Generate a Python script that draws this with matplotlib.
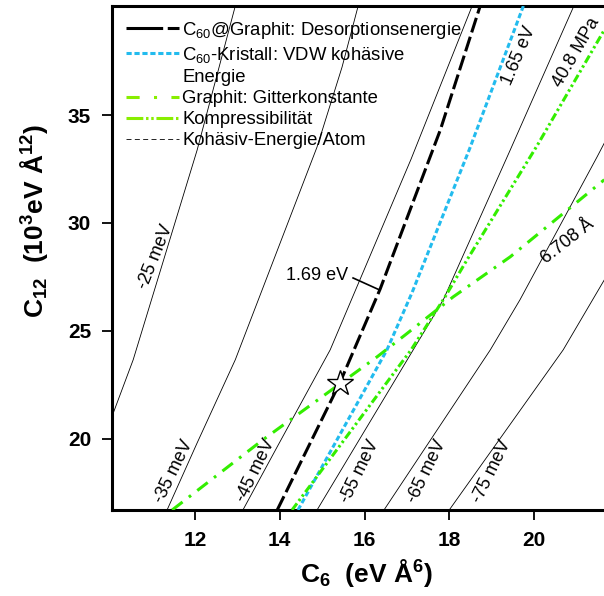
import matplotlib
matplotlib.use("Agg")
import matplotlib.pyplot as plt
from matplotlib.lines import Line2D

plt.rcParams['font.family'] = ['Liberation Sans', 'DejaVu Sans']
plt.rcParams['mathtext.default'] = 'regular'

# --- data (C6 in eV A^6, C12 in 10^3 eV A^12) ---
desorp_c6 = [13.94, 15.42, 16.37, 17.79, 18.73]
desorp_c12 = [16.7, 22.6, 26.94, 34.31, 40.05]

kristall_c6 = [14.43, 16.53, 17.12, 18.48, 19.75]
kristall_c12 = [16.7, 24.12, 26.76, 33.43, 40.05]

gitter_c6 = [11.46, 13.6, 16.3, 16.96, 18.09, 19.44, 21.66]
gitter_c12 = [16.7, 19.95, 23.8, 24.81, 26.57, 28.43, 32.0]

kompr_c6 = [14.29, 17.1, 17.9, 18.42, 20.08, 21.66]
kompr_c12 = [16.7, 24.12, 26.57, 28.29, 33.6, 38.94]

# cohesive energy per atom contours
coh_labels = ["-25 meV", "-35 meV", "-45 meV", "-55 meV", "-65 meV", "-75 meV"]
coh_c6 = [
    [9.9, 10.54, 12.05, 12.95],
    [11.34, 12.05, 12.95, 14.88, 15.47, 15.85],
    [13.13, 13.94, 15.19, 17.1, 18.54],
    [14.88, 17.15, 17.86, 19.44, 20.93],
    [16.46, 18.97, 19.67, 21.49, 21.66],
    [18.0, 20.69, 21.66],
]
coh_c12 = [
    [20.3, 23.66, 33.38, 40.05],
    [16.7, 19.81, 23.66, 33.52, 37.22, 40.05],
    [16.7, 19.63, 24.12, 32.96, 40.05],
    [16.7, 24.12, 26.44, 33.38, 40.0],
    [16.7, 24.12, 26.44, 33.06, 33.7],
    [16.7, 24.12, 27.36],
]
coh_lab_c6 = [11.06, 11.5, 13.44, 15.9, 17.48, 19.01]
coh_lab_c12 = [28.43, 18.47, 18.52, 18.47, 18.47, 18.47]
coh_lab_rot = [68, 64, 64, 64, 64, 64]

star_c6, star_c12 = 15.42, 22.6

GREEN = '#33ee00'
GREEN_LEG = '#88ee00'
CYAN = '#22bbee'

fig = plt.figure(figsize=(6.04, 5.96), dpi=100)
ax = fig.add_axes([112 / 604, 1 - 510 / 596, (618.7 - 112) / 604, 504 / 596])

for xs, ys in zip(coh_c6, coh_c12):
    ax.plot(xs, ys, color='black', lw=0.6)
for lab, x, y, r in zip(coh_labels, coh_lab_c6, coh_lab_c12, coh_lab_rot):
    ax.text(x, y, lab, rotation=r, ha='center', va='center', fontsize=13)

ax.plot(desorp_c6, desorp_c12, color='black', lw=2.2, dashes=(5, 1.5), zorder=4)
ax.plot(kristall_c6, kristall_c12, color=CYAN, lw=2.2, dashes=(1.7, 0.9), zorder=4)
ax.plot(gitter_c6, gitter_c12, color=GREEN, lw=2.2, dashes=(4.3, 2.6, 0.9, 2.6),
        zorder=4)
ax.plot(kompr_c6, kompr_c12, color=GREEN, lw=2.2,
        dashes=(2.7, 1, 0.8, 1, 0.8, 1), zorder=4)

ax.plot([star_c6], [star_c12], marker='*', ms=19, mfc='white', mec='black',
        mew=1.0, zorder=6)

# annotations
ax.plot([15.73, 16.35], [27.45, 26.9], color='black', lw=1.2)
ax.text(14.88, 27.55, "1.69 eV", ha='center', va='center', fontsize=13)
ax.text(19.65, 37.75, "1.65 eV", rotation=67, ha='center', va='center', fontsize=13)
ax.text(21.0, 37.9, "40.8 MPa", rotation=60, ha='center', va='center', fontsize=13)
ax.text(20.22, 28.25, "6.708 Å", rotation=38, ha='left', va='center',
        rotation_mode='anchor', fontsize=13)

ax.set_xlim(10.04, 22)
ax.set_ylim(16.7, 40.05)
ax.set_xticks([12, 14, 16, 18, 20])
ax.set_yticks([20, 25, 30, 35])
ax.tick_params(direction='out', length=7, width=1.3, labelsize=15)
ax.tick_params(axis='x', pad=8)
ax.tick_params(axis='y', pad=8)
for t in ax.get_xticklabels() + ax.get_yticklabels():
    t.set_fontweight('bold')
for s in ax.spines.values():
    s.set_linewidth(2.2)

ax.set_xlabel("C$_6$  (eV Å$^6$)", fontsize=19, fontweight='bold')
ax.set_ylabel("C$_{12}$  (10$^3$eV Å$^{12}$)", fontsize=19, fontweight='bold')
ax.xaxis.set_label_coords(0.503, -0.093)
ax.xaxis.label.set_va('top')
ax.yaxis.set_label_coords(-0.122, 0.573)

# legend; the wrapped second label gets an empty handle for its second line
handles = [
    Line2D([], [], color='black', lw=2.2, dashes=(12, 1.5)),
    Line2D([], [], color=CYAN, lw=2.2, dashes=(1.7, 0.9)),
    Line2D([], [], color='none'),
    Line2D([], [], color=GREEN_LEG, lw=2.2, dashes=(4.3, 4.7, 1, 4.7)),
    Line2D([], [], color=GREEN_LEG, lw=2.2, dashes=(5.5, 0.9, 0.8, 0.9, 0.8, 0.9)),
    Line2D([], [], color='black', lw=0.6, dashes=(6, 4)),
]
labels = [
    "C$_{60}$@Graphit: Desorptionsenergie",
    "C$_{60}$-Kristall: VDW kohäsive",
    "Energie",
    "Graphit: Gitterkonstante",
    "Kompressibilität",
    "Kohäsiv-Energie/Atom",
]
ax.legend(handles, labels, loc='upper left', bbox_to_anchor=(0.0, 1.0),
          frameon=False, fontsize=13.3, handlelength=2.85, handletextpad=0.2,
          labelspacing=0.22, borderaxespad=0.35)

fig.savefig("out.png", dpi=100)
